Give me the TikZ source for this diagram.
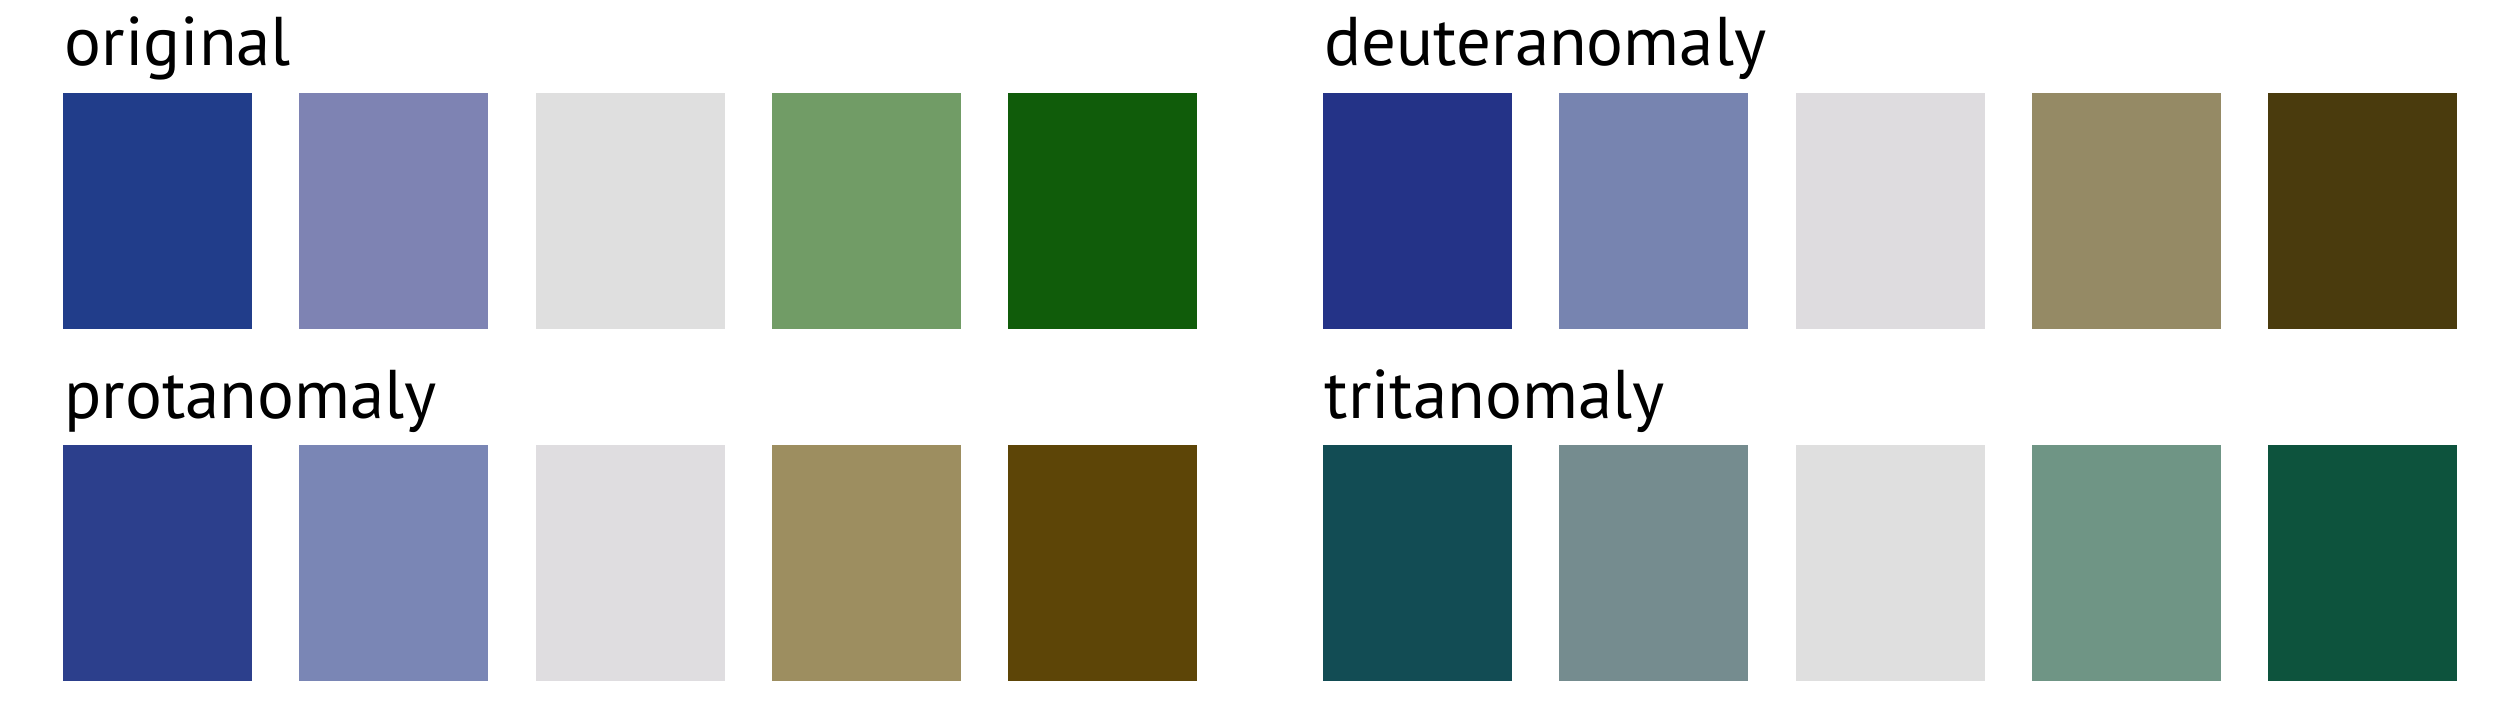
\documentclass[tikz,border=0pt]{standalone}
\usepackage{fontspec}
\setmainfont{PT Sans}
\usetikzlibrary{positioning}

% palette for each simulation
\definecolor{origA}{HTML}{213D8A}
\definecolor{origB}{HTML}{7E83B3}
\definecolor{origC}{HTML}{DFDFDF}
\definecolor{origD}{HTML}{719C66}
\definecolor{origE}{HTML}{105C0A}
\definecolor{deutA}{HTML}{243387}
\definecolor{deutB}{HTML}{7784B0}
\definecolor{deutC}{HTML}{DEDCDF}
\definecolor{deutD}{HTML}{958A65}
\definecolor{deutE}{HTML}{4A3B0D}
\definecolor{protA}{HTML}{2C3F8C}
\definecolor{protB}{HTML}{7A86B5}
\definecolor{protC}{HTML}{DFDDE0}
\definecolor{protD}{HTML}{9D8E60}
\definecolor{protE}{HTML}{5D4507}
\definecolor{tritA}{HTML}{124C54}
\definecolor{tritB}{HTML}{758C8F}
\definecolor{tritC}{HTML}{DFDFDF}
\definecolor{tritD}{HTML}{6F9585}
\definecolor{tritE}{HTML}{0D533D}

\begin{document}
\begin{tikzpicture}[
  x=0.01cm, y=-0.01cm,
  swatch/.style={fill=#1, draw=none, anchor=north west, inner sep=0pt, outer sep=0pt,
    minimum width=1.89cm, minimum height=2.355cm},
  title/.style={anchor=base west, inner sep=0pt, font=\fontsize{19.6}{23}\selectfont}
]
  \useasboundingbox (0,0) rectangle (2520,705);

  \node[title] (torig) at (64,65) {original};
  \node[title] (tdeut) at (1324,65) {deuteranomaly};
  \node[title] (tprot) at (64,418) {protanomaly};
  \node[title] (ttrit) at (1324,418) {tritanomaly};

  \foreach \c [count=\i] in {origA,origB,origC,origD,origE}
    \node[swatch=\c] (orig\i) at ({63+236.25*(\i-1)},93) {};
  \foreach \c [count=\i] in {deutA,deutB,deutC,deutD,deutE}
    \node[swatch=\c] (deut\i) at ({1323+236.25*(\i-1)},93) {};
  \foreach \c [count=\i] in {protA,protB,protC,protD,protE}
    \node[swatch=\c] (prot\i) at ({63+236.25*(\i-1)},445) {};
  \foreach \c [count=\i] in {tritA,tritB,tritC,tritD,tritE}
    \node[swatch=\c] (trit\i) at ({1323+236.25*(\i-1)},445) {};
\end{tikzpicture}
\end{document}
